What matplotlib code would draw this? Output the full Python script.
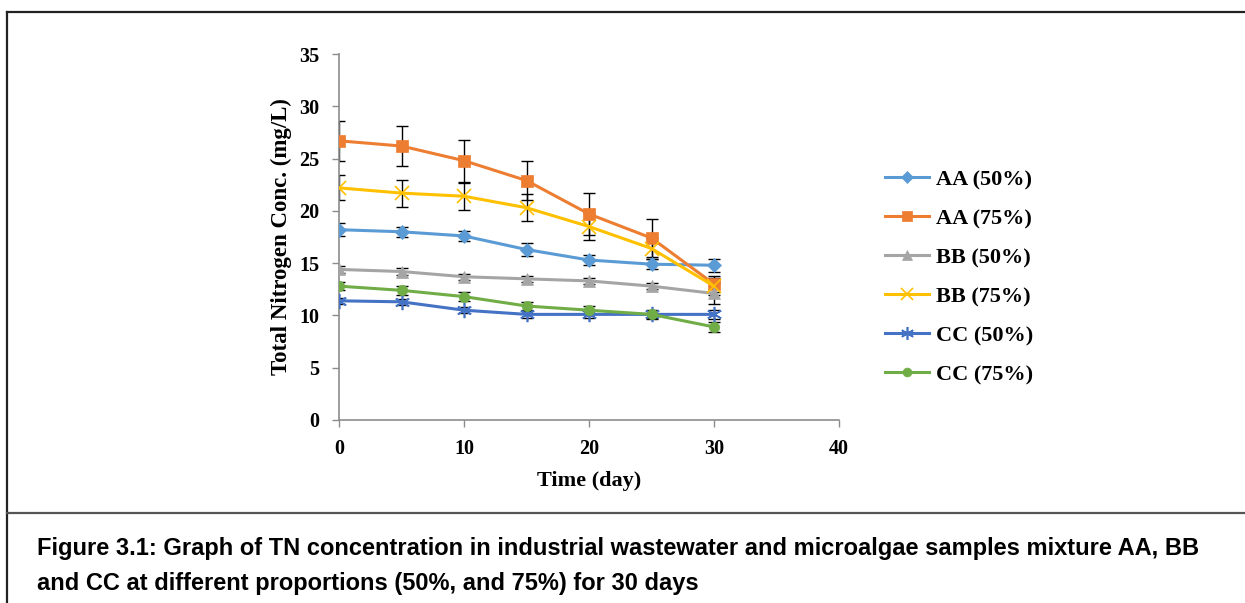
import matplotlib
matplotlib.use('Agg')
import matplotlib.pyplot as plt
from matplotlib.lines import Line2D

# ---------------- data ----------------
days = [0, 5, 10, 15, 20, 25, 30]

aa50 = [18.2, 18.0, 17.6, 16.3, 15.3, 14.9, 14.8]
aa75 = [26.7, 26.2, 24.8, 22.9, 19.7, 17.4, 13.0]
bb50 = [14.4, 14.2, 13.7, 13.5, 13.3, 12.8, 12.1]
bb75 = [22.2, 21.7, 21.4, 20.3, 18.5, 16.4, 12.8]
cc50 = [11.4, 11.3, 10.5, 10.1, 10.1, 10.1, 10.1]
cc75 = [12.8, 12.4, 11.8, 10.9, 10.5, 10.1, 8.9]

aa50_err = [0.6, 0.5, 0.5, 0.6, 0.5, 0.5, 0.6]
aa75_err = [1.9, 1.9, 2.0, 1.9, 2.0, 1.8, 0.8]
bb50_err = [0.3, 0.3, 0.3, 0.3, 0.3, 0.3, 1.0]
bb75_err = [1.2, 1.3, 1.3, 1.3, 1.3, 1.0, 0.8]
cc50_err = [0.3, 0.3, 0.3, 0.3, 0.3, 0.3, 0.4]
cc75_err = [0.4, 0.4, 0.4, 0.4, 0.4, 0.4, 0.5]

labels = ['AA (50%)', 'AA (75%)', 'BB (50%)', 'BB (75%)', 'CC (50%)', 'CC (75%)']
series = [aa50, aa75, bb50, bb75, cc50, cc75]
errors = [aa50_err, aa75_err, bb50_err, bb75_err, cc50_err, cc75_err]
colors = ['#5B9BD5', '#ED7D31', '#A5A5A5', '#FFC000', '#4472C4', '#70AD47']
markers = ['D', 's', '^', 'x', (6, 2, 0), 'o']
msizes = [7, 8.5, 8.5, 10, 11, 7.5]

caption1 = 'Figure 3.1: Graph of TN concentration in industrial wastewater and microalgae samples mixture AA, BB'
caption2 = 'and CC at different proportions (50%, and 75%) for 30 days'

# ---------------- figure ----------------
fig = plt.figure(figsize=(12.45, 6.03), dpi=100)
ax = fig.add_axes([0.2723, 0.3035, 0.4016, 0.6069])

serif = 'Liberation Serif'

for y, e, c, m, ms, lab in zip(series, errors, colors, markers, msizes, labels):
    ax.errorbar(days, y, yerr=e, fmt='none', ecolor='black', elinewidth=1,
                capsize=4, capthick=1, zorder=2)
    ax.plot(days, y, color=c, lw=2.2, marker=m, markersize=ms,
            markeredgewidth=1.2 if m in ('x', (6, 2, 0)) else 0.5,
            markeredgecolor=c, label=lab, zorder=3)

ax.set_xlim(0, 40)
ax.set_ylim(0, 35)
ax.set_xticks([0, 10, 20, 30, 40])
ax.set_yticks([0, 5, 10, 15, 20, 25, 30, 35])

for s in ['top', 'right']:
    ax.spines[s].set_visible(False)
for s in ['left', 'bottom']:
    ax.spines[s].set_color('#8C8C8C')
    ax.spines[s].set_linewidth(1.2)
ax.tick_params(axis='both', direction='out', length=5, width=1, color='#8C8C8C')

for t in ax.get_xticklabels() + ax.get_yticklabels():
    t.set_fontfamily(serif)
    t.set_fontweight('bold')
    t.set_fontsize(14.5)
ax.tick_params(axis='x', pad=9)
ax.tick_params(axis='y', pad=9)

ax.set_xlabel('Time (day)', fontfamily=serif, fontweight='bold', fontsize=16, labelpad=8)
ax.set_ylabel('Total Nitrogen Conc. (mg/L)', fontfamily=serif, fontweight='bold',
              fontsize=16.5, labelpad=5)

leg = ax.legend(loc='upper left', bbox_to_anchor=(1.092, 0.684), frameon=False,
                prop={'family': serif, 'weight': 'bold', 'size': 16},
                handlelength=2.0, labelspacing=0.83, handletextpad=0.3,
                borderpad=0, borderaxespad=0, markerscale=0.85)

# ---------------- page frame and caption ----------------
fig.add_artist(Line2D([0.0056, 1.0], [0.980, 0.980], color='#222222', lw=1.6))
fig.add_artist(Line2D([0.0056, 0.0056], [0.0, 0.980], color='#222222', lw=1.6))
fig.add_artist(Line2D([0.0056, 1.0], [0.1493, 0.1493], color='#555555', lw=1.6))

fig.text(0.0297, 0.091, caption1, fontfamily='Liberation Sans', fontweight='bold',
         fontsize=17, va='center', ha='left')
fig.text(0.0297, 0.033, caption2, fontfamily='Liberation Sans', fontweight='bold',
         fontsize=17, va='center', ha='left')

fig.savefig('out.png', dpi=100)
